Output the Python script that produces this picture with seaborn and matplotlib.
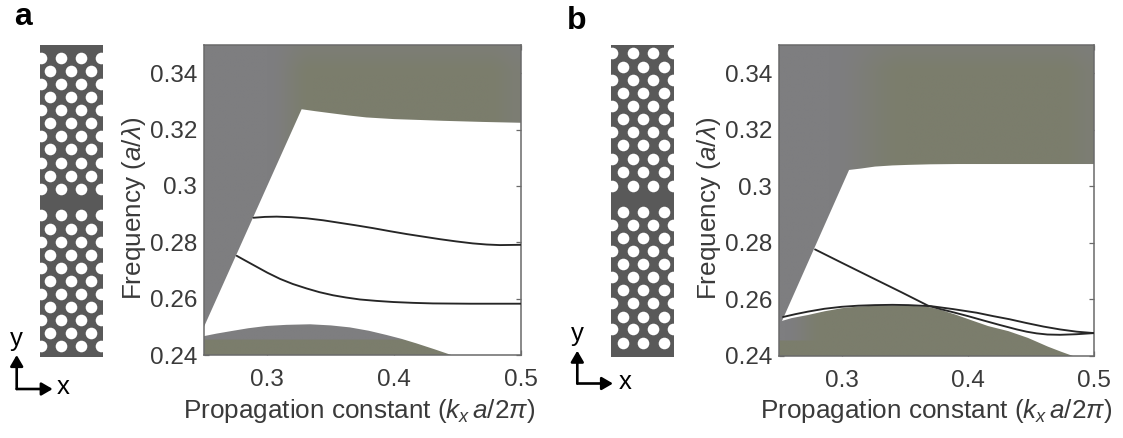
import matplotlib
matplotlib.use("Agg")
import matplotlib.pyplot as plt
from matplotlib.colors import to_rgb
from matplotlib.patches import Polygon
import numpy as np
import pandas as pd
import seaborn as sns

W, H = 1123, 438

# ---- data ----
x_ticks = [0.3, 0.4, 0.5]
x_ticklabels = ["0.3", "0.4", "0.5"]
y_ticks = [0.24, 0.26, 0.28, 0.30, 0.32, 0.34]
y_ticklabels = ["0.24", "0.26", "0.28", "0.3", "0.32", "0.34"]

a_top_x = [0.327, 0.338, 0.35, 0.364, 0.378, 0.4, 0.42, 0.4385, 0.47, 0.5]
a_top_y = [0.3272, 0.3265, 0.3258, 0.325, 0.3243, 0.3237, 0.3234, 0.3231, 0.3227, 0.3224]
a_dome_x = [0.25, 0.26, 0.273, 0.285, 0.2994, 0.315, 0.3336, 0.35, 0.365, 0.38, 0.394, 0.406, 0.4177, 0.432, 0.445]
a_dome_y = [0.2467, 0.2476, 0.2486, 0.2495, 0.2503, 0.2507, 0.2509, 0.2505, 0.2498, 0.2486, 0.2471, 0.2457, 0.2441, 0.242, 0.24]
a_mode1_x = [0.289, 0.298, 0.3073, 0.319, 0.331, 0.344, 0.357, 0.37, 0.3835, 0.397, 0.41, 0.423, 0.436, 0.449, 0.462, 0.473, 0.4834, 0.5]
a_mode1_y = [0.2887, 0.289, 0.2891, 0.2889, 0.2885, 0.2878, 0.2869, 0.286, 0.285, 0.2839, 0.2829, 0.282, 0.2811, 0.2803, 0.2796, 0.2792, 0.279, 0.2791]
a_mode2_x = [0.2758, 0.283, 0.2915, 0.3, 0.31, 0.32, 0.331, 0.341, 0.3517, 0.362, 0.373, 0.386, 0.3993, 0.415, 0.4306, 0.46, 0.5]
a_mode2_y = [0.2752, 0.2734, 0.2713, 0.2692, 0.2670, 0.2652, 0.2636, 0.2623, 0.2612, 0.2604, 0.2597, 0.2592, 0.2588, 0.2585, 0.2583, 0.2582, 0.2582]

b_top_x = [0.3056, 0.315, 0.3262, 0.34, 0.3526, 0.37, 0.392, 0.5]
b_top_y = [0.3058, 0.3063, 0.307, 0.3074, 0.3076, 0.3078, 0.3079, 0.3079]
b_dome_x = [0.25, 0.26, 0.273, 0.286, 0.2997, 0.313, 0.326, 0.34, 0.3526, 0.368, 0.379, 0.3897, 0.403, 0.4159, 0.432, 0.4476, 0.4635, 0.474, 0.4833]
b_dome_y = [0.2521, 0.2534, 0.2545, 0.2558, 0.2569, 0.2575, 0.2578, 0.2579, 0.2578, 0.2574, 0.2562, 0.2547, 0.2526, 0.2506, 0.2488, 0.2464, 0.2433, 0.2415, 0.24]
b_mode1_x = [0.2532, 0.263, 0.273, 0.286, 0.2997, 0.313, 0.326, 0.34, 0.3526, 0.3712, 0.388, 0.407, 0.42, 0.433, 0.446, 0.46, 0.473, 0.4863, 0.5]
b_mode1_y = [0.2538, 0.2548, 0.2557, 0.2567, 0.2574, 0.2578, 0.258, 0.2581, 0.258, 0.2576, 0.2566, 0.2553, 0.2541, 0.253, 0.2517, 0.2504, 0.2494, 0.2486, 0.2481]
b_mode2_x = [0.2786, 0.2997, 0.326, 0.3474, 0.3683, 0.378, 0.388, 0.4, 0.412, 0.425, 0.4387, 0.4465, 0.4545, 0.463, 0.473, 0.486, 0.5]
b_mode2_y = [0.2777, 0.273, 0.2672, 0.2625, 0.2578, 0.2566, 0.2555, 0.2541, 0.2526, 0.251, 0.2494, 0.2486, 0.248, 0.2476, 0.2475, 0.2477, 0.2481]

olive_floor = 0.2453

# lattice hole rows / columns (image pixels)
a_rows_top = [57.7, 71, 84.3, 97, 110, 123.3, 136, 149, 162.7, 176, 189.3]
a_rows_bot = [215, 229, 242, 255, 268, 281, 294, 307, 320, 333, 346]
a_cols_1 = [41, 61, 81, 101]
a_cols_2 = [50, 71, 91]
b_rows_top = [53.3, 66.7, 80, 92.7, 106, 119, 132, 145, 158.7, 172, 185.7]
b_rows_bot = [211.7, 225, 238, 251, 264, 277, 290, 303, 317, 329, 343]
b_cols_1 = [612, 633, 653, 673]
b_cols_2 = [623, 643, 664]

# ---- style ----
sns.set_theme(style="white")
plt.rcParams["font.family"] = ["Liberation Sans", "DejaVu Sans"]
plt.rcParams["mathtext.fontset"] = "custom"
plt.rcParams["mathtext.it"] = "Liberation Sans:italic"
plt.rcParams["mathtext.rm"] = "Liberation Sans"
plt.rcParams["mathtext.cal"] = "Liberation Sans:italic"

GRAY = np.array(to_rgb("#7e7e80"))
OLIVE = np.array(to_rgb("#7b7d6c"))
SPINE = "#6a6a6a"
TEXT = "#3a3a3a"
SLAB = "#595959"
LINE = "#262626"
LABEL_FS = 18.8
TICK_FS = 17.5

fig = plt.figure(figsize=(W / 100, H / 100), dpi=100, facecolor="white")


def px_axes(l, t, r, b):
    return fig.add_axes([l / W, 1 - b / H, (r - l) / W, (b - t) / H])


ov = fig.add_axes([0, 0, 1, 1], zorder=5)
ov.set_xlim(0, W)
ov.set_ylim(H, 0)
ov.axis("off")
ov.patch.set_alpha(0)


def ramp(v, lo, hi):
    t = np.clip((v - lo) / (hi - lo), 0, 1)
    return t * t * (3 - 2 * t)


def shade(ax, verts, weight):
    """Paint a gray-to-olive wash clipped to a region outline."""
    gx, gy = np.meshgrid(np.linspace(0.25, 0.5, 200), np.linspace(0.24, 0.35, 200))
    w = weight(gx, gy)[..., None]
    img = GRAY * (1 - w) + OLIVE * w
    im = ax.imshow(img, origin="lower", extent=(0.25, 0.5, 0.24, 0.35), aspect="auto",
                   interpolation="bilinear", zorder=1)
    im.set_clip_path(Polygon(verts, closed=True, transform=ax.transData))


def draw(ax, top_x, top_y, dome_x, dome_y, modes, fade, dome_weight):
    ax.set_xlim(0.25, 0.5)
    ax.set_ylim(0.24, 0.35)
    upper = [(0.25, 0.35), (0.25, 0.25)] + list(zip(top_x, top_y)) + [(0.5, 0.35)]
    shade(ax, upper, lambda x, y: ramp(x, *fade) * (1 - ramp(y, 0.340, 0.35) * 0.45) * (1 - ramp(x, 0.475, 0.5) * 0.4))
    lower = [(0.25, 0.24)] + list(zip(dome_x, dome_y)) + [(dome_x[-1], 0.24)]
    shade(ax, lower, dome_weight)
    for mx, my in modes:
        sns.lineplot(data=pd.DataFrame({"k": mx, "f": my}), x="k", y="f", ax=ax, sort=False,
                     errorbar=None, color=LINE, lw=1.35, zorder=3)
    ax.set_xlim(0.25, 0.5)
    ax.set_ylim(0.24, 0.35)
    ax.set_xticks(x_ticks, x_ticklabels)
    ax.set_yticks(y_ticks, y_ticklabels)
    ax.tick_params(axis="both", which="both", direction="in", length=3.5, width=0.9, color=SPINE,
                   top=True, right=True, left=True, bottom=True, labelsize=TICK_FS, labelcolor=TEXT)
    ax.tick_params(axis="x", pad=10)
    ax.tick_params(axis="y", pad=5)
    for s in ax.spines.values():
        s.set_color(SPINE)
        s.set_linewidth(1.1)
        s.set_visible(True)
    ax.set_xlabel(r"Propagation constant ($\mathit{k_{x}\,a/2\pi}$)", fontsize=LABEL_FS, color=TEXT)
    ax.set_ylabel(r"Frequency ($\mathit{a/\lambda}$)", fontsize=LABEL_FS, color=TEXT)


ax_a = px_axes(204, 45, 521, 355)
draw(ax_a, a_top_x, a_top_y, a_dome_x, a_dome_y,
     [(a_mode1_x, a_mode1_y), (a_mode2_x, a_mode2_y)], (0.30, 0.335),
     lambda x, y: (y < olive_floor).astype(float))
ax_a.xaxis.set_label_coords((359 - 204) / 317, -(411 - 355) / 310)
ax_a.xaxis.label.set_va("center")
ax_a.yaxis.set_label_coords(-(204 - 134) / 317, (355 - 208) / 310)
ax_a.yaxis.label.set_va("center")

ax_b = px_axes(779, 45, 1094, 356)
draw(ax_b, b_top_x, b_top_y, b_dome_x, b_dome_y,
     [(b_mode1_x, b_mode1_y), (b_mode2_x, b_mode2_y)], (0.29, 0.35),
     lambda x, y: np.maximum(ramp(x, 0.255, 0.285), (y < olive_floor).astype(float)))
ax_b.xaxis.set_label_coords((936 - 779) / 315, -(411 - 356) / 311)
ax_b.xaxis.label.set_va("center")
ax_b.yaxis.set_label_coords(-(779 - 709) / 315, (356 - 208) / 311)
ax_b.yaxis.label.set_va("center")


def lattice(l, r, t, b, rows, cols):
    ax = px_axes(l, t, r, b)
    ax.set_facecolor(SLAB)
    xs, ys = [], []
    for (row_list, start) in rows:
        for i, ry in enumerate(row_list):
            for cx in cols[(i + start) % 2]:
                xs.append(cx)
                ys.append(ry)
    sns.scatterplot(x=xs, y=ys, ax=ax, s=70, color="white", linewidth=0, legend=False)
    ax.set_xlim(l, r)
    ax.set_ylim(b, t)
    ax.set_xticks([])
    ax.set_yticks([])
    for s in ax.spines.values():
        s.set_visible(False)


lattice(40, 103, 45, 357, [(a_rows_top, 0), (a_rows_bot, 0)], (a_cols_1, a_cols_2))
lattice(611, 674, 45, 357, [(b_rows_top, 0), (b_rows_bot, 1)], (b_cols_1, b_cols_2))


def axes_glyph(x0, y0, xtip, ytip, ylab, xlab):
    for tip in ((x0, ytip), (xtip, y0)):
        ov.annotate("", xy=tip, xytext=(x0, y0),
                    arrowprops=dict(arrowstyle="-|>,head_width=0.32,head_length=0.55", color="black", lw=1.9,
                                    shrinkA=0, shrinkB=0))
    ov.text(ylab[0], ylab[1], "y", fontsize=18.5, color="black", ha="center", va="center")
    ov.text(xlab[0], xlab[1], "x", fontsize=18.5, color="black", ha="center", va="center")


axes_glyph(16.7, 389, 52.7, 355, (16, 339), (63.5, 387))
axes_glyph(577.3, 383.5, 613, 350.7, (577, 334), (625, 382))

ov.text(14, 25, "a", fontsize=23, fontweight="bold", color="black", ha="left", va="baseline")
ov.text(567, 29, "b", fontsize=23, fontweight="bold", color="black", ha="left", va="baseline")

fig.savefig("out.png", dpi=100)
